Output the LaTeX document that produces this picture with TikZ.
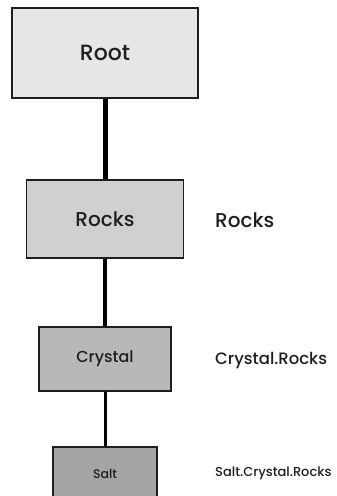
\documentclass[tikz,border=0pt]{standalone}
\usepackage{fontspec}
\setmainfont{Poppins Medium}
\usepackage{xcolor}
\definecolor{nsroot}{HTML}{E6E6E6}
\definecolor{nsrocks}{HTML}{D0D0D0}
\definecolor{nscrystal}{HTML}{B8B8B8}
\definecolor{nssalt}{HTML}{A4A4A4}
\definecolor{nsink}{HTML}{1E1E1E}
\usepackage{tikz}
\usetikzlibrary{positioning}
\tikzset{
  every picture/.style={line cap=butt, line join=miter},
  nsbox/.style={draw=nsink, line width=1.3pt, inner sep=0pt, text=nsink},
  pathlbl/.style={anchor=west, inner sep=0pt, text=nsink},
  link/.style={draw=black},
}
\begin{document}
\begin{tikzpicture}[x=1pt, y=-1pt]
\useasboundingbox (0,0) rectangle (337,496);
% the nested namespaces, one box each
\node[nsbox, fill=nsroot, minimum width=186pt, minimum height=90pt, font=\fontsize{22}{24}\selectfont]
  (root) at (105,53) {Root};
\node[nsbox, fill=nsrocks, minimum width=157pt, minimum height=78pt, font=\fontsize{20}{22}\selectfont]
  (rocks) at (105,219) {Rocks};
\node[nsbox, fill=nscrystal, minimum width=132pt, minimum height=64pt, font=\fontsize{16}{18}\selectfont]
  (crystal) at (105,359) {Crystal};
\node[nsbox, fill=nssalt, minimum width=104pt, minimum height=56pt, font=\fontsize{12.5}{14}\selectfont]
  (salt) at (105,475) {\raisebox{2pt}{Salt}};
% links get thinner further down
\draw[link, line width=5pt] (root) -- (rocks);
\draw[link, line width=4pt] (rocks) -- (crystal);
\draw[link, line width=3pt] (crystal) -- (salt);
% full names
\node[pathlbl, font=\fontsize{20}{22}\selectfont] (rockslbl) at (215,220) {Rocks};
\node[pathlbl, font=\fontsize{16.5}{18}\selectfont] (crystallbl) at (215,361) {Crystal.Rocks};
\node[pathlbl, font=\fontsize{13}{14}\selectfont] (saltlbl) at (215,473) {Salt.Crystal.Rocks};
\end{tikzpicture}
\end{document}
